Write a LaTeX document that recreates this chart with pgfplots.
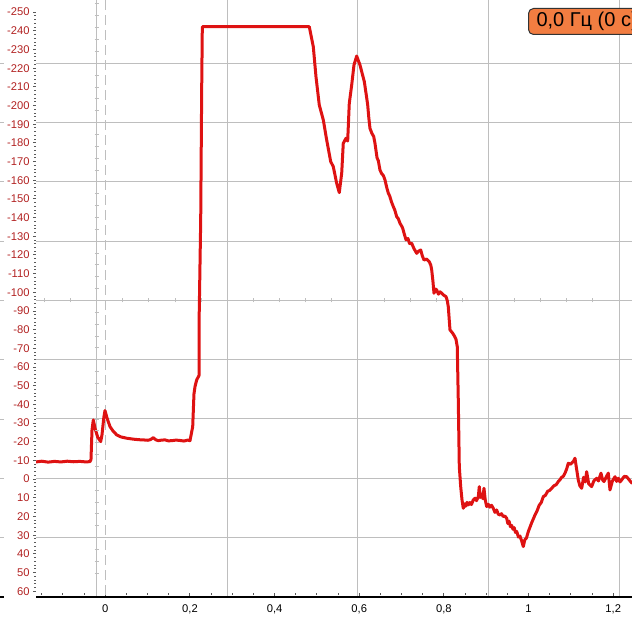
\documentclass[border=0pt]{standalone}
\usepackage{fontspec}
\setmainfont{Liberation Sans}
\usepackage{pgfplots}
\pgfplotsset{compat=1.18}
\definecolor{sig}{RGB}{222,18,18}
\definecolor{lab}{RGB}{178,34,34}
\definecolor{grd}{RGB}{190,190,190}
\definecolor{orng}{RGB}{242,125,65}
\begin{document}
\begin{tikzpicture}[x=1pt,y=1pt]
\begin{axis}[
  at={(18pt,12pt)}, anchor=south west, scale only axis,
  width=298pt, height=298.5pt,
  xmin=-0.1637, xmax=1.2443, ymin=-256.5, ymax=63.1, y dir=reverse,
  axis line style={draw=none},
  tick align=outside,
  xtick={-0.2,0,...,1.2}, minor x tick num=3,
  ytick={-250,-240,...,60}, minor y tick num=4,
  xtick pos=left, ytick pos=left,
  major tick length=1.5pt, minor tick length=0.8pt,
  tick style={line width=0.5pt, color=gray!70!black},
  x tick style={yshift=2pt},
  yticklabel={\pgfmathparse{int(round(\tick))}\pgfmathresult},
  yticklabel style={font=\fontsize{5.6}{6}\selectfont, text=lab, inner sep=1.5pt},
  xticklabel style={font=\fontsize{5.6}{6}\selectfont, text=black, inner sep=1pt, yshift=-1pt,
    /pgf/number format/.cd, use comma, fixed, precision=1, assume math mode=true},
  extra y ticks={-222.6,-190.9,-159.2,-127.4,-95.7,-63.9,-32.2,-0.4,31.3},
  extra y tick labels={},
  extra y tick style={grid=major, major tick length=0pt},
  extra x ticks={-0.0203,0.2882,0.5963,0.9048,1.2159},
  extra x tick labels={},
  extra x tick style={grid=major, major tick length=0pt},
  grid style={grd, line width=0.5pt},
]
\draw[grd, line width=0.5pt, dash pattern=on 5pt off 2.5pt] (axis cs:0,-256.5) -- (axis cs:0,63.1);
\addplot[sig, line width=1.5pt, line join=round, line cap=round] coordinates {
(-0.1637,-9.2) (-0.150,-9.6) (-0.135,-9.1) (-0.120,-9.5) (-0.105,-9.2) (-0.090,-9.6)
(-0.075,-9.3) (-0.060,-9.5) (-0.045,-9.2) (-0.036,-9.4) (-0.0338,-10.5) (-0.0314,-26.3)
(-0.0283,-31.7) (-0.024,-27) (-0.018,-22.5) (-0.0109,-20.1) (-0.0078,-23.7) (-0.0035,-33)
(-0.0007,-36.7) (0.004,-32.8) (0.0111,-28.1) (0.0182,-25.8) (0.0269,-23.7) (0.037,-22.6)
(0.0506,-21.9) (0.06,-21.6) (0.0702,-21.3) (0.08,-21.1) (0.0898,-21.0) (0.1009,-20.8)
(0.107,-21.2) (0.1134,-22.2) (0.119,-21.1) (0.1252,-20.6) (0.133,-20.9) (0.141,-21.0)
(0.149,-20.5) (0.1576,-20.6) (0.167,-20.9) (0.1765,-20.7) (0.186,-20.4) (0.1945,-20.9)
(0.2001,-20.6) (0.2065,-28.1) (0.2095,-45.6) (0.2119,-49.5) (0.2159,-53.1) (0.2214,-55.5)
(0.2214,-81.6) (0.2254,-138.8) (0.2277,-208.4) (0.2292,-242.2) (0.4819,-242.2)
(0.4914,-231.5) (0.4977,-215.5) (0.5055,-200.3) (0.515,-192.3) (0.523,-181.6) (0.5325,-170.0)
(0.5386,-167.3) (0.5466,-158.4) (0.5528,-153.4) (0.5585,-163.8) (0.5622,-179.8) (0.5686,-182.5)
(0.5726,-181.0) (0.5764,-201.2) (0.5821,-211.0) (0.5875,-221.7) (0.5939,-226.5) (0.6017,-221.7)
(0.6119,-212.8) (0.6160,-206.5) (0.6199,-200.3) (0.6225,-193.5) (0.6253,-187.8) (0.6300,-185.0)
(0.6340,-183.5) (0.6371,-179.8) (0.6420,-172.0) (0.6450,-170.5) (0.6489,-165.5) (0.6530,-163.5)
(0.6570,-162.5) (0.6607,-160.2) (0.6650,-156.0) (0.6686,-153.1) (0.6720,-151.5) (0.6760,-148.5)
(0.6804,-145.9) (0.6840,-144.0) (0.6884,-140.5) (0.6920,-139.5) (0.6962,-137.0) (0.7000,-135.5)
(0.7026,-134.3) (0.7060,-131.5) (0.7104,-128.1) (0.7150,-128.8) (0.7190,-126.0) (0.7238,-126.3)
(0.7290,-123.5) (0.7356,-120.9) (0.7400,-122.0) (0.7451,-122.7) (0.7490,-119.5) (0.7529,-117.3)
(0.7590,-117.8) (0.7654,-116.4) (0.7690,-114.5) (0.7711,-112.0) (0.7740,-106.0) (0.7765,-99.5)
(0.7800,-101.8) (0.7829,-101.3) (0.7870,-99.0) (0.7910,-100.3) (0.7947,-99.5) (0.8000,-98.4)
(0.8049,-97.7) (0.8080,-95.5) (0.8103,-92.3) (0.8143,-79.9) (0.8175,-79.0) (0.8207,-78.1)
(0.8250,-76.5) (0.8285,-74.9) (0.8315,-70.9) (0.8339,-42.4) (0.8363,-6.7) (0.8396,4.0)
(0.8427,11.1) (0.8457,15.6) (0.8490,13.2) (0.8515,14.5) (0.8545,12.4) (0.8575,13.8)
(0.8615,12.5) (0.8650,13.6) (0.8694,11.1) (0.8734,10.2) (0.8770,11.5) (0.8812,9.4)
(0.8835,4.0) (0.8860,9.8) (0.8892,8.0) (0.8920,10.5) (0.8946,4.9) (0.8975,11.0)
(0.901,14.7) (0.9050,13.5) (0.9085,15.0) (0.9125,14.0) (0.9166,15.6) (0.9205,17.8)
(0.9245,16.5) (0.9285,18.8) (0.9324,19.2) (0.9360,18.5) (0.9400,20.0) (0.9440,19.8)
(0.9482,20.9) (0.9510,23.8) (0.9540,22.5) (0.9570,25.5) (0.96,24.8) (0.963,26.8)
(0.966,26.0) (0.969,28.5) (0.9719,28.0) (0.9760,31.0) (0.9797,30.5) (0.9835,33.0)
(0.9875,36.1) (0.9910,32.5) (0.9950,31.5) (0.9993,28.1) (1.0070,23.5) (1.0151,19.2)
(1.0200,17.0) (1.0250,14.0) (1.0300,12.5) (1.0347,9.4) (1.0400,8.6) (1.0450,6.5)
(1.0500,6.0) (1.0546,4.9) (1.0600,3.5) (1.0650,3.0) (1.0702,1.3) (1.0745,0.2)
(1.078,-1.0) (1.0820,-1.5) (1.086,-3.2) (1.0900,-5.5) (1.0938,-8.5) (1.0990,-8.0)
(1.1056,-9.4) (1.1096,-11.2) (1.1130,-6.0) (1.1174,0.4) (1.1210,3.5) (1.1254,4.9)
(1.1300,-1.0) (1.1340,1.5) (1.1372,-4.0) (1.1420,2.5) (1.149,4.0) (1.1540,1.0)
(1.1609,-0.5) (1.1650,1.0) (1.171,-3.2) (1.1750,0.5) (1.1781,1.3) (1.1830,-1.0)
(1.1883,-3.2) (1.1923,5.8) (1.1980,1.0) (1.2041,-1.3) (1.2080,1.2) (1.2120,-0.5)
(1.2160,1.5) (1.2199,0.4) (1.2260,-1.5) (1.2317,-1.3) (1.2380,0.5) (1.2443,2.2)
};
\end{axis}
% bottom axis line
\draw[black, line width=1pt] (18,12) -- (316,12);
\draw[black, line width=1pt] (0,12) -- (2,12);
% grid stubs at the far left
\foreach \yy in {278.85,249.2,219.55,189.9,160.25,130.6,100.95,71.3,41.65}
  \draw[grd, line width=0.5pt] (0,\yy) -- (2,\yy);
% crosshair minor marks
\foreach \k in {-2,...,20} \draw[grd, line width=0.5pt] ({48.35+13.06*\k},159.25) -- ++(0,2);
\foreach \j in {-5,...,43} \draw[grd, line width=0.5pt] (47.35,{278.85-5.93*\j}) -- ++(2,0);
\begin{scope}
\clip (0,0) rectangle (316,310.5);
\node[draw=black!80, fill=orng, rounded corners=2.5pt, line width=0.5pt, anchor=north west,
  inner xsep=4pt, inner ysep=0pt, minimum height=13pt, font=\fontsize{10}{11}\selectfont, text=black]
  at (264,306.5) {0,0 Гц (0 с)};
\end{scope}
\pgfresetboundingbox
\useasboundingbox (0,0) rectangle (316,310.5);
\end{tikzpicture}
\end{document}
